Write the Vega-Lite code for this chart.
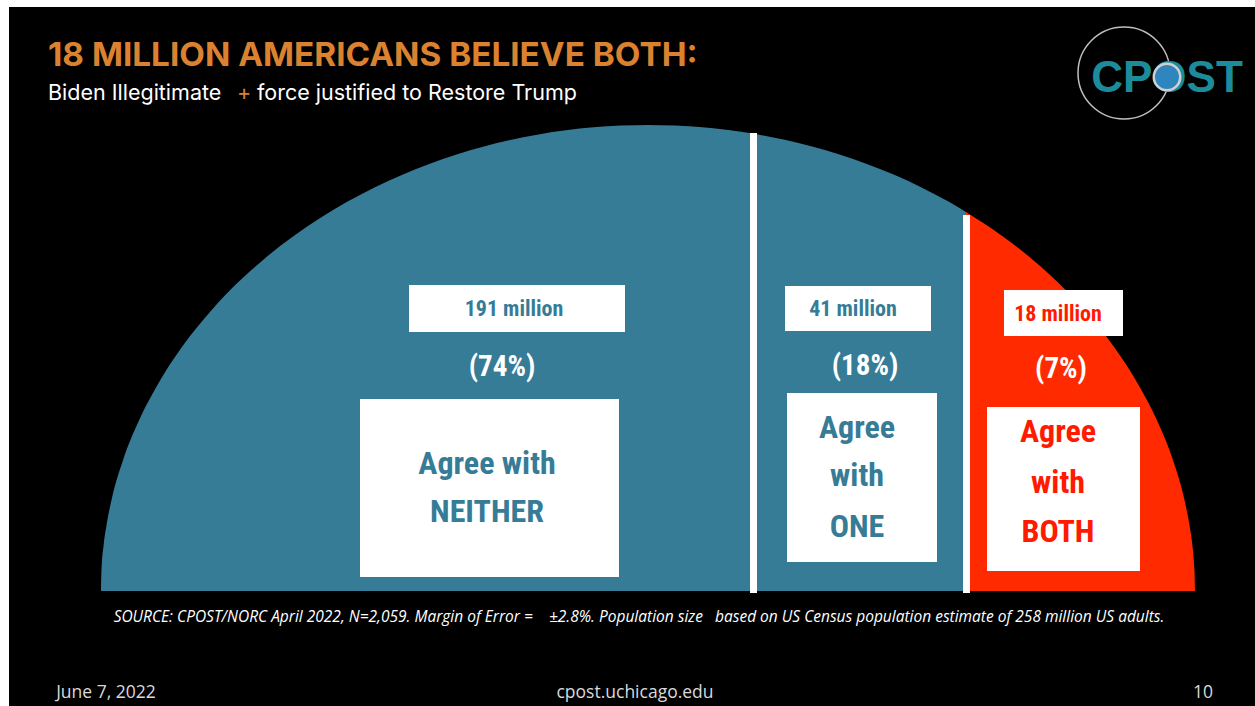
{
  "$schema": "https://vega.github.io/schema/vega-lite/v6.json",
  "width": 1246,
  "height": 699,
  "autosize": {"type": "none"},
  "padding": {"left": 9, "top": 7, "right": 0, "bottom": 0},
  "background": "white",
  "config": {"view": {"fill": "black", "stroke": null}},
  "encoding": {
    "x": {"field": "x", "type": "quantitative", "scale": {"domain": [-639, 607], "nice": false, "zero": false}, "axis": null},
    "y": {"field": "h", "type": "quantitative", "scale": {"domain": [-115, 584], "nice": false, "zero": false}, "axis": null}
  },
  "layer": [
    {
      "data": {"values": [
        {"seg": "neither", "x": -547, "h": 0}, {"seg": "neither", "x": -546.5, "h": 20.8}, {"seg": "neither", "x": -544.3, "h": 46.5},
        {"seg": "neither", "x": -541.5, "h": 65.7}, {"seg": "neither", "x": -536.1, "h": 92.7}, {"seg": "neither", "x": -525.1, "h": 130.5},
        {"seg": "neither", "x": -508.7, "h": 171.3}, {"seg": "neither", "x": -492.3, "h": 203.1}, {"seg": "neither", "x": -465, "h": 245.5},
        {"seg": "neither", "x": -437.6, "h": 279.6}, {"seg": "neither", "x": -382.9, "h": 332.8}, {"seg": "neither", "x": -328.2, "h": 372.8},
        {"seg": "neither", "x": -273.5, "h": 403.6}, {"seg": "neither", "x": -218.8, "h": 427.1}, {"seg": "neither", "x": -164.1, "h": 444.5},
        {"seg": "neither", "x": -109.4, "h": 456.6}, {"seg": "neither", "x": -54.7, "h": 463.7}, {"seg": "neither", "x": 0, "h": 466},
        {"seg": "neither", "x": 54.7, "h": 463.7}, {"seg": "neither", "x": 106, "h": 457.2},
        {"seg": "one", "x": 106, "h": 457.2}, {"seg": "one", "x": 136.8, "h": 451.2}, {"seg": "one", "x": 164.1, "h": 444.5},
        {"seg": "one", "x": 191.5, "h": 436.5}, {"seg": "one", "x": 218.8, "h": 427.1}, {"seg": "one", "x": 246.2, "h": 416.2},
        {"seg": "one", "x": 273.5, "h": 403.6}, {"seg": "one", "x": 300.9, "h": 389.2}, {"seg": "one", "x": 318, "h": 379.1},
        {"seg": "both", "x": 318, "h": 379.1}, {"seg": "both", "x": 355.6, "h": 354.1}, {"seg": "both", "x": 382.9, "h": 332.8},
        {"seg": "both", "x": 410.3, "h": 308.2}, {"seg": "both", "x": 437.6, "h": 279.6}, {"seg": "both", "x": 465, "h": 245.5},
        {"seg": "both", "x": 492.3, "h": 203.1}, {"seg": "both", "x": 508.7, "h": 171.3}, {"seg": "both", "x": 525.1, "h": 130.5},
        {"seg": "both", "x": 536.1, "h": 92.7}, {"seg": "both", "x": 541.5, "h": 65.7}, {"seg": "both", "x": 544.3, "h": 46.5},
        {"seg": "both", "x": 546.5, "h": 20.8}, {"seg": "both", "x": 547, "h": 0}
      ]},
      "mark": {"type": "area", "interpolate": "monotone"},
      "encoding": {
        "y2": {"datum": 0},
        "color": {"field": "seg", "type": "nominal", "scale": {"domain": ["neither", "one", "both"], "range": ["#367C97", "#367C97", "#FF2A00"]}, "legend": null}
      }
    },
    {
      "data": {"values": [{"x": 105.5, "h": 458}, {"x": 318.5, "h": 376}]},
      "mark": {"type": "rule", "color": "white", "strokeWidth": 7},
      "encoding": {"y2": {"datum": -2}}
    },
    {
      "data": {"values": [
        {"x": -239, "x2": -23, "h": 306, "h2": 259},
        {"x": 137, "x2": 283, "h": 305, "h2": 260},
        {"x": 356, "x2": 475, "h": 301, "h2": 255},
        {"x": -288, "x2": -29, "h": 192, "h2": 14},
        {"x": 139, "x2": 289, "h": 198, "h2": 29},
        {"x": 339, "x2": 492, "h": 184, "h2": 20}
      ]},
      "mark": {"type": "rect", "fill": "white"},
      "encoding": {"x2": {"field": "x2"}, "y2": {"field": "h2"}}
    },
    {
      "data": {"values": [
        {"label": "191 million", "x": -134, "h": 282},
        {"label": "41 million", "x": 205, "h": 282}
      ]},
      "mark": {"type": "text", "font": "Roboto Condensed, DejaVu Sans Condensed, sans-serif", "fontWeight": "bold", "fontSize": 22, "color": "#367C97", "align": "center", "baseline": "middle"},
      "encoding": {"text": {"field": "label"}}
    },
    {
      "data": {"values": [{"label": "18 million", "x": 410, "h": 277}]},
      "mark": {"type": "text", "font": "Roboto Condensed, DejaVu Sans Condensed, sans-serif", "fontWeight": "bold", "fontSize": 22, "color": "#FF1A00", "align": "center", "baseline": "middle"},
      "encoding": {"text": {"field": "label"}}
    },
    {
      "data": {"values": [
        {"label": "(74%)", "x": -146, "h": 224.5},
        {"label": "(18%)", "x": 217, "h": 225},
        {"label": "(7%)", "x": 413, "h": 222.5}
      ]},
      "mark": {"type": "text", "font": "Roboto Condensed, DejaVu Sans Condensed, sans-serif", "fontWeight": "bold", "fontSize": 29, "color": "white", "align": "center", "baseline": "middle"},
      "encoding": {"text": {"field": "label"}}
    },
    {
      "data": {"values": [
        {"label": "Agree with", "x": -161, "h": 127.5},
        {"label": "NEITHER", "x": -161, "h": 79},
        {"label": "Agree", "x": 209, "h": 163.5},
        {"label": "with", "x": 209, "h": 115},
        {"label": "ONE", "x": 209, "h": 64.5}
      ]},
      "mark": {"type": "text", "font": "Roboto Condensed, DejaVu Sans Condensed, sans-serif", "fontWeight": "bold", "fontSize": 32, "color": "#367C97", "align": "center", "baseline": "middle"},
      "encoding": {"text": {"field": "label"}}
    },
    {
      "data": {"values": [
        {"label": "Agree", "x": 410, "h": 159},
        {"label": "with", "x": 410, "h": 108.5},
        {"label": "BOTH", "x": 410, "h": 59.5}
      ]},
      "mark": {"type": "text", "font": "Roboto Condensed, DejaVu Sans Condensed, sans-serif", "fontWeight": "bold", "fontSize": 32, "color": "#FF1A00", "align": "center", "baseline": "middle"},
      "encoding": {"text": {"field": "label"}}
    },
    {
      "data": {"values": [{"label": "18 MILLION AMERICANS BELIEVE BOTH:", "x": -600, "h": 525}]},
      "mark": {"type": "text", "font": "Inter", "fontWeight": "bold", "fontSize": 33.3, "color": "#DB8231", "align": "left", "baseline": "alphabetic"},
      "encoding": {"text": {"field": "label"}}
    },
    {
      "data": {"values": [
        {"label": "Biden Illegitimate", "x": -600, "h": 491},
        {"label": "force justified to Restore Trump", "x": -391, "h": 491}
      ]},
      "mark": {"type": "text", "font": "Inter", "fontSize": 21.5, "color": "white", "align": "left", "baseline": "alphabetic"},
      "encoding": {"text": {"field": "label"}}
    },
    {
      "data": {"values": [{"label": "+", "x": -404, "h": 491}]},
      "mark": {"type": "text", "font": "Inter", "fontSize": 21.5, "color": "#DB8231", "align": "center", "baseline": "alphabetic"},
      "encoding": {"text": {"field": "label"}}
    },
    {
      "data": {"values": [{"label": "SOURCE: CPOST/NORC  April 2022, N=2,059. Margin of Error =\u00a0\u00a0\u00a0\u00a0±2.8%. Population size\u00a0\u00a0 based on US Census population estimate of 258 million US adults.", "x": -9, "h": -26}]},
      "mark": {"type": "text", "font": "Open Sans", "fontStyle": "italic", "fontSize": 15.5, "color": "white", "align": "center", "baseline": "middle"},
      "encoding": {"text": {"field": "label"}}
    },
    {
      "data": {"values": [
        {"label": "June 7, 2022", "x": -542, "h": -102},
        {"label": "cpost.uchicago.edu", "x": -13, "h": -102},
        {"label": "10", "x": 555, "h": -102}
      ]},
      "mark": {"type": "text", "font": "Open Sans", "fontSize": 17.5, "color": "#D9D9D9", "align": "center", "baseline": "middle"},
      "encoding": {"text": {"field": "label"}}
    },
    {
      "data": {"values": [{"x": 476, "h": 518}]},
      "mark": {"type": "point", "shape": "circle", "size": 8464, "filled": false, "stroke": "#BFBFBF", "strokeWidth": 1.5, "opacity": 1}
    },
    {
      "data": {"values": [{"label": "CPOST", "x": 519, "h": 499}]},
      "mark": {"type": "text", "font": "Liberation Sans, Arial, sans-serif", "fontWeight": "bold", "fontSize": 44, "color": "#1C8C9C", "align": "center", "baseline": "alphabetic"},
      "encoding": {"text": {"field": "label"}}
    },
    {
      "data": {"values": [{"x": 519, "h": 514}]},
      "mark": {"type": "point", "shape": "circle", "size": 700, "filled": true, "fill": "#2F86BF", "stroke": "#D0D0D0", "strokeWidth": 2.5, "opacity": 1}
    }
  ]
}
